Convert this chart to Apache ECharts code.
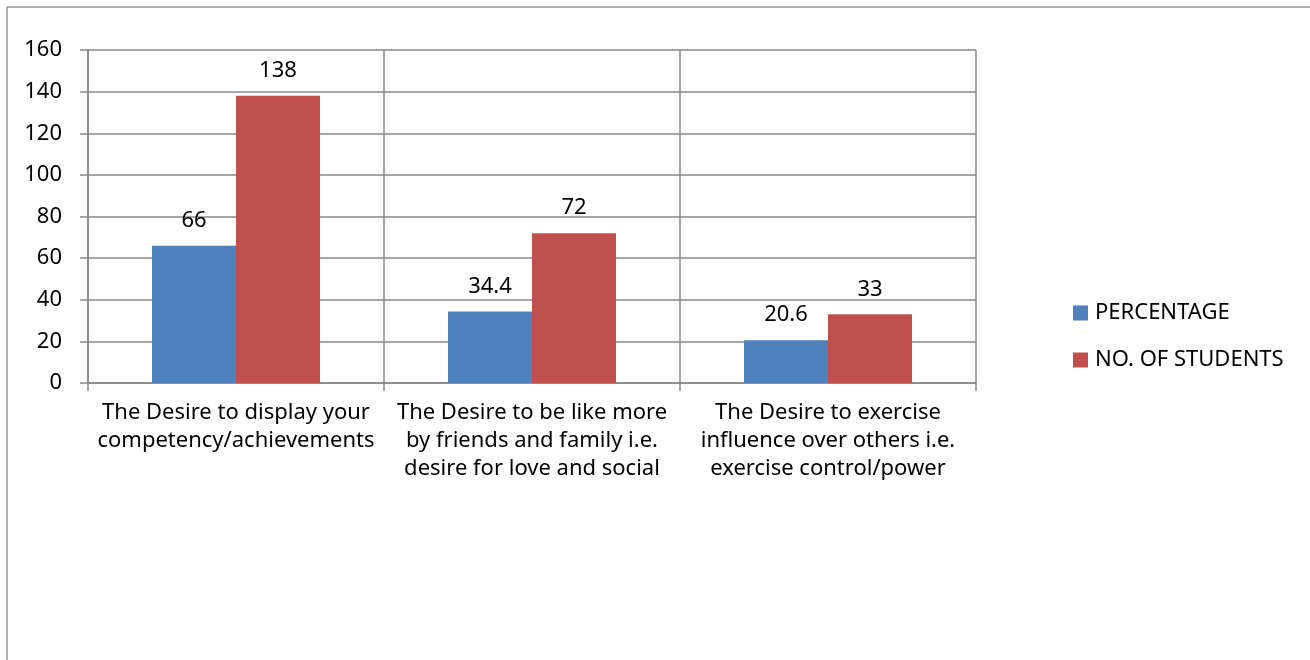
<!DOCTYPE html>
<html><head><meta charset="utf-8">
<script src="https://cdn.jsdelivr.net/npm/echarts@6/dist/echarts.min.js"></script>
<style>html,body{margin:0;padding:0;background:#fff}#c{width:1310px;height:660px}</style>
</head><body><div id="c"></div>
<script>
var categories = [
  "The Desire to display your\ncompetency/achievements",
  "The Desire to be like more\nby friends and family i.e.\ndesire for love and social",
  "The Desire to exercise\ninfluence over others i.e.\nexercise control/power"
];
var percentage = [66, 34.4, 20.6];
var students = [138, 72, 33];
var seriesNames = ["PERCENTAGE", "NO. OF STUDENTS"];
var FONT = "Noto Sans";
var FS = 22;
var chart = echarts.init(document.getElementById('c'));
var lbl = {show: true, position: 'top', color: '#000', fontSize: FS, fontFamily: FONT, distance: 14};
chart.setOption({
  animation: false,
  textStyle: {fontFamily: FONT},
  graphic: [
    {type: 'line', shape: {x1: 7, y1: 7, x2: 1310, y2: 7}, style: {stroke: '#999', lineWidth: 1.5}},
    {type: 'line', shape: {x1: 7, y1: 7, x2: 7, y2: 660}, style: {stroke: '#999', lineWidth: 1.5}}
  ],
  legend: {
    orient: 'vertical', left: 1073, top: 302, itemWidth: 15, itemHeight: 15, itemGap: 25,
    icon: 'rect', padding: 0,
    textStyle: {fontSize: FS, color: '#000', fontFamily: FONT, padding: [0, 0, 0, 2]},
    data: seriesNames
  },
  grid: {left: 88, right: 334, top: 50, bottom: 277, containLabel: false},
  xAxis: {
    type: 'category', data: categories,
    axisLine: {lineStyle: {color: '#888', width: 1.5}},
    axisTick: {show: true, length: 8, lineStyle: {color: '#888', width: 1.5}},
    splitLine: {show: true, lineStyle: {color: '#888', width: 1.5}},
    axisLabel: {color: '#000', fontSize: FS, fontFamily: FONT, lineHeight: 28, margin: 16, interval: 0}
  },
  yAxis: {
    type: 'value', min: 0, max: 160, interval: 20,
    axisLine: {show: true, lineStyle: {color: '#888', width: 1.5}},
    axisTick: {show: true, length: 8, lineStyle: {color: '#888', width: 1.5}},
    splitLine: {show: true, lineStyle: {color: '#888', width: 1.5}},
    axisLabel: {color: '#000', fontSize: FS, fontFamily: FONT, margin: 26}
  },
  series: [
    {name: seriesNames[0], type: 'bar', data: percentage, barWidth: 84, barGap: '0%', itemStyle: {color: '#4F81BD'}, label: lbl},
    {name: seriesNames[1], type: 'bar', data: students, barWidth: 84, barGap: '0%', itemStyle: {color: '#C0504D'}, label: lbl}
  ]
});
</script></body></html>
